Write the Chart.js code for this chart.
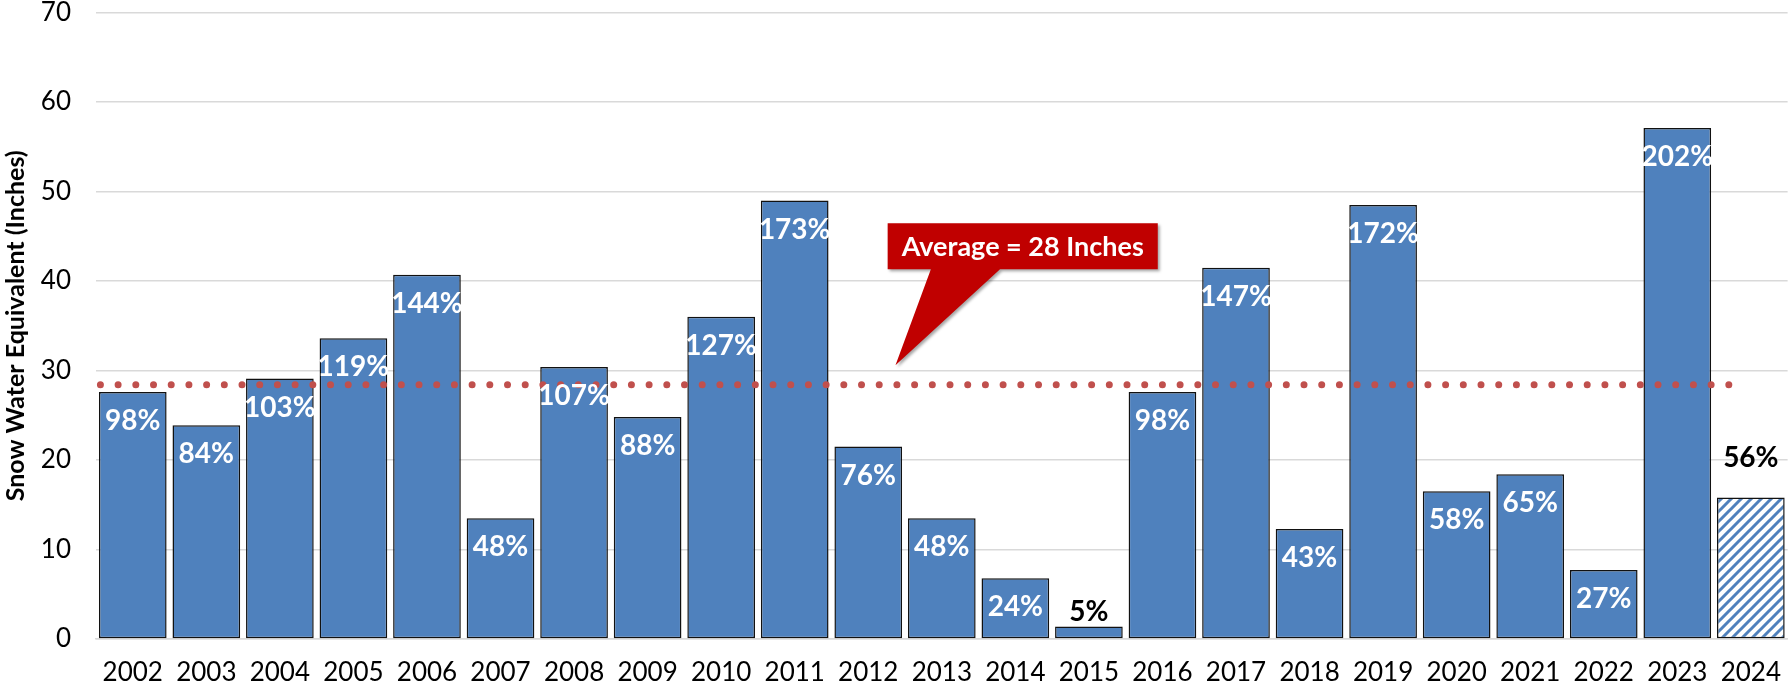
<!DOCTYPE html>
<html>
<head>
<meta charset="utf-8">
<script src="https://cdn.jsdelivr.net/npm/chart.js@4.4.1/dist/chart.umd.min.js"></script>
<style>
  html, body { margin: 0; padding: 0; background: #fff; }
</style>
</head>
<body>
<canvas id="chart" width="1791" height="697"></canvas>
<script>
// data
const years = ['2002', '2003', '2004', '2005', '2006', '2007', '2008', '2009', '2010', '2011', '2012',
               '2013', '2014', '2015', '2016', '2017', '2018', '2019', '2020', '2021', '2022', '2023', '2024'];
const swe = [27.6, 23.9, 29.1, 33.6, 40.7, 13.5, 30.4, 24.8, 36.0, 49.0, 21.5,
             13.5, 6.8, 1.4, 27.6, 41.5, 12.3, 48.5, 16.5, 18.4, 7.7, 57.1, 15.8];
const pctOfAvg = ['98%', '84%', '103%', '119%', '144%', '48%', '107%', '88%', '127%', '173%', '76%',
                  '48%', '24%', '5%', '98%', '147%', '43%', '172%', '58%', '65%', '27%', '202%', '56%'];
const yTicks = [0, 10, 20, 30, 40, 50, 60, 70];
const average = 28.4;
const averageText = 'Average = 28 Inches';

// where the dotted line and callout sit, in category-index / inch units
const avgLineFrom = -0.44;
const avgLineTo = 21.92;
const calloutTip = { x: 10.37, y: 30.6 };
const calloutBox = { x: 12.1, y: 43.9 };

const BLUE = '#4F81BD';
const FONT = "Lato, 'Open Sans', sans-serif";

// hatched fill for the current (partial) year
function makeHatch() {
    const c = document.createElement('canvas');
    c.width = 10; c.height = 10;
    const g = c.getContext('2d');
    g.fillStyle = '#fff';
    g.fillRect(0, 0, 10, 10);
    g.strokeStyle = BLUE;
    g.lineWidth = 3;
    g.beginPath();
    g.moveTo(-5, 5); g.lineTo(5, -5);
    g.moveTo(0, 10); g.lineTo(10, 0);
    g.moveTo(5, 15); g.lineTo(15, 5);
    g.stroke();
    return g.createPattern(c, 'repeat');
}
const ctx = document.getElementById('chart').getContext('2d');
const hatch = makeHatch();
const lastIdx = years.length - 1;

const barLabels = {
    id: 'barLabels',
    afterDatasetsDraw(chart) {
        const meta = chart.getDatasetMeta(1);
        const c = chart.ctx;
        c.save();
        c.font = 'bold 28px ' + FONT;
        c.textAlign = 'center';
        c.textBaseline = 'middle';
        meta.data.forEach((bar, i) => {
            const outside = swe[i] < 5 || i === lastIdx;
            if (outside) {
                c.fillStyle = '#000';
                c.fillText(pctOfAvg[i], bar.x, bar.y - (i === lastIdx ? 40 : 15));
            } else {
                c.fillStyle = '#fff';
                c.fillText(pctOfAvg[i], bar.x, bar.y + 29);
            }
        });
        c.restore();
    }
};

const callout = {
    id: 'callout',
    afterDraw(chart) {
        const xs = chart.scales.x2, ys = chart.scales.y;
        const c = chart.ctx;
        c.save();
        c.font = 'bold 27px ' + FONT;
        const tw = c.measureText(averageText).width;
        const bw = tw + 28, bh = 46;
        const cx = xs.getPixelForValue(calloutBox.x), cy = ys.getPixelForValue(calloutBox.y);
        const l = cx - bw / 2, t = cy - bh / 2, r = l + bw, b = t + bh;
        const tx = xs.getPixelForValue(calloutTip.x), ty = ys.getPixelForValue(calloutTip.y);
        c.beginPath();
        c.moveTo(l, t);
        c.lineTo(r, t);
        c.lineTo(r, b);
        c.lineTo(l + bw * 0.416, b);
        c.lineTo(tx, ty);
        c.lineTo(l + bw * 0.16, b);
        c.lineTo(l, b);
        c.closePath();
        c.shadowColor = 'rgba(0,0,0,0.35)';
        c.shadowBlur = 3;
        c.shadowOffsetX = 2;
        c.shadowOffsetY = 2;
        c.fillStyle = '#C00000';
        c.fill();
        c.shadowColor = 'transparent';
        c.fillStyle = '#fff';
        c.textAlign = 'center';
        c.textBaseline = 'middle';
        c.fillText(averageText, cx, cy + 1);
        c.restore();
    }
};

Chart.defaults.font.family = FONT;
Chart.defaults.color = '#000';

new Chart(ctx, {
    data: {
        labels: years,
        datasets: [{
            type: 'line',
            xAxisID: 'x2',
            data: [{ x: avgLineFrom, y: average }, { x: avgLineTo, y: average }],
            borderColor: '#C0504D',
            borderWidth: 7,
            borderDash: [0, 17.7],
            borderCapStyle: 'round',
            pointRadius: 0,
            order: 0
        }, {
            type: 'bar',
            data: swe,
            grouped: false,
            backgroundColor: (c) => c.dataIndex === lastIdx ? hatch : BLUE,
            borderColor: '#111',
            borderWidth: 1.5,
            borderSkipped: false,
            barPercentage: 0.92,
            categoryPercentage: 1,
            order: 1
        }]
    },
    options: {
        responsive: false,
        animation: false,
        layout: { padding: 0 },
        plugins: {
            legend: { display: false },
            tooltip: { enabled: false }
        },
        scales: {
            x: {
                type: 'category',
                offset: true,
                grid: { display: false },
                border: { color: '#D9D9D9', width: 1.5 },
                ticks: { font: { size: 26 }, padding: 10, maxRotation: 0, autoSkip: false },
                afterFit(s) { s.height = 58; }
            },
            x2: {
                type: 'linear',
                display: false,
                min: -0.5,
                max: years.length - 0.5
            },
            y: {
                min: 0,
                max: 70,
                afterBuildTicks(s) { s.ticks = yTicks.map(v => ({ value: v })); },
                grid: { color: '#D9D9D9', lineWidth: 1.5, drawTicks: false },
                border: { display: false },
                ticks: { font: { size: 26 }, padding: 25 },
                title: {
                    display: true,
                    text: 'Snow Water Equivalent (Inches)',
                    font: { size: 25, weight: 'bold' },
                    padding: { top: 1, bottom: 0 }
                },
                afterFit(s) { s.width = 96; s.paddingTop = 12.6; }
            }
        }
    },
    plugins: [barLabels, callout]
});
</script>
</body>
</html>
